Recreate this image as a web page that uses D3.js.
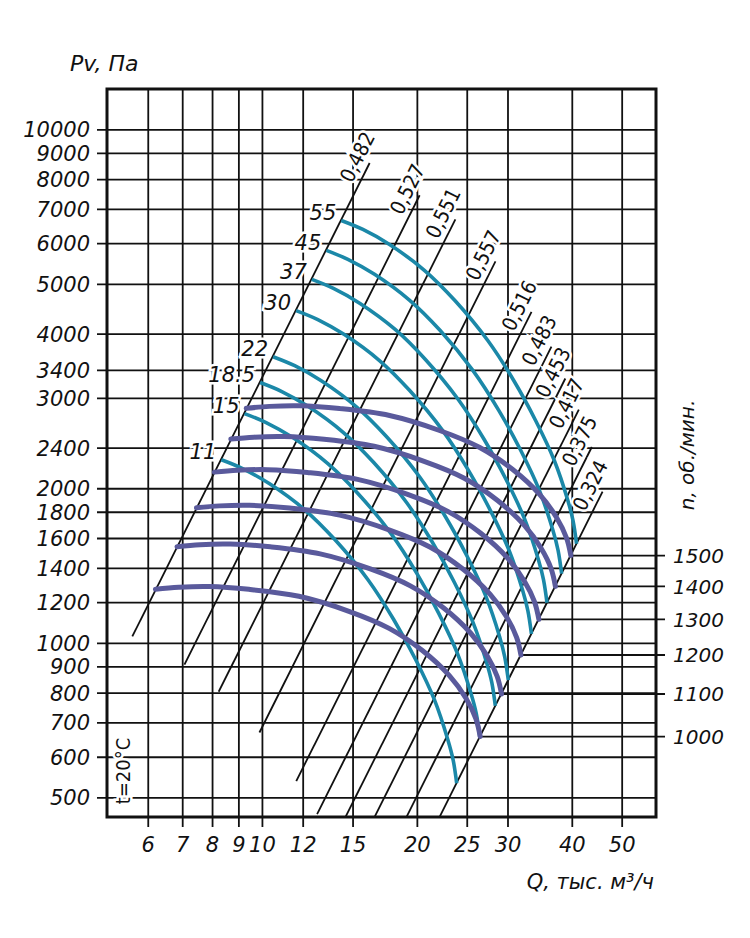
<!DOCTYPE html>
<html><head><meta charset="utf-8">
<script src="https://cdn.jsdelivr.net/npm/d3@7"></script>
<style>body{margin:0;background:#fff}</style>
</head><body>
<svg id="c" width="750" height="938"></svg>
<script>
// ---------- DATA ----------
const qTicks = [6, 7, 8, 9, 10, 12, 15, 20, 25, 30, 40, 50];
const pTicks = [500, 600, 700, 800, 900, 1000, 1200, 1400, 1600, 1800, 2000, 2400, 3000, 3400, 4000, 5000, 6000, 7000, 8000, 9000, 10000];

// efficiency (system) lines: [Q1, P1, Q2, P2]
const effLabels = ["0,482", "0,527", "0,551", "0,557", "0,516", "0,483", "0,453", "0,417", "0,375", "0,324"];
const effLines = [
  [5.60, 1029, 16.19, 8597],
  [7.07, 907, 20.25, 7439],
  [8.24, 803, 23.76, 6678],
  [9.89, 669, 28.43, 5529],
  [11.66, 538, 33.4, 4412],
  [12.8, 464, 36.52, 3774],
  [14.0, 425, 38.86, 3271],
  [16.0, 428, 41.28, 2846],
  [18.5, 430, 43.75, 2406],
  [21.5, 432, 45.9, 1970]
];

// teal curves (motor power, kW)
const powerLabels = ["55", "45", "37", "30", "22", "18.5", "15", "11"];
const teal55 = [[14.26,6644],[15.71,6381],[17.70,5966],[20.71,5309],[23.71,4641],[27.47,3879],[30.85,3242],[34.02,2710],[36.99,2265],[39.30,1893],[40.22,1730],[40.86,1559]];
const teal45 = [[13.34,5812],[14.69,5582],[16.55,5219],[19.37,4644],[22.18,4060],[25.69,3393],[28.85,2836],[31.82,2371],[34.60,1981],[36.76,1656],[37.62,1513],[38.22,1364]];
const teal37 = [[12.50,5101],[13.77,4899],[15.51,4580],[18.15,4076],[20.78,3563],[24.07,2978],[27.03,2489],[29.81,2080],[32.41,1739],[34.44,1453],[35.24,1328],[35.80,1197]];
const teal30 = [[11.65,4436],[12.84,4261],[14.46,3983],[16.92,3545],[19.37,3099],[22.45,2590],[25.21,2165],[27.80,1809],[30.23,1512],[32.11,1264],[32.86,1155],[33.39,1041]];
const teal22 = [[10.51,3607],[11.58,3464],[13.04,3239],[15.26,2882],[17.47,2520],[20.24,2106],[22.73,1760],[25.07,1471],[27.25,1230],[28.96,1028],[29.63,939],[30.11,846]];
const teal185 = [[9.92,3213],[10.93,3086],[12.31,2885],[14.40,2567],[16.49,2244],[19.10,1876],[21.45,1568],[23.66,1311],[25.72,1095],[27.33,915],[27.97,837],[28.41,754]];
const teal15 = [[9.25,2795],[10.19,2685],[11.48,2510],[13.43,2233],[15.38,1952],[17.82,1632],[20.01,1364],[22.07,1140],[23.99,953],[25.49,796],[26.09,728],[26.50,656]];
const teal11 = [[8.34,2272],[9.19,2182],[10.35,2040],[12.11,1816],[13.87,1587],[16.07,1327],[18.04,1109],[19.90,927],[21.63,775],[22.98,647],[23.52,592],[23.90,533]];
const tealCurves = [teal55, teal45, teal37, teal30, teal22, teal185, teal15, teal11];

// purple curves (speed, rpm)
const rpmLabels = ["1500", "1400", "1300", "1200", "1100", "1000"];
const rpm1500 = [[9.32,2862],[10.34,2887],[11.83,2895],[14.15,2859],[17.70,2771],[22.14,2591],[26.50,2401],[30.71,2175],[34.67,1944],[37.36,1754],[39.07,1600],[39.83,1479]];
const rpm1400 = [[8.70,2493],[9.65,2515],[11.04,2522],[13.21,2491],[16.52,2414],[20.66,2257],[24.73,2092],[28.66,1895],[32.36,1693],[34.87,1528],[36.47,1394],[37.17,1288]];
const rpm1300 = [[8.08,2150],[8.96,2168],[10.25,2174],[12.26,2147],[15.34,2081],[19.19,1946],[22.97,1803],[26.62,1634],[30.05,1460],[32.38,1317],[33.86,1202],[34.52,1111]];
const rpm1200 = [[7.46,1832],[8.27,1848],[9.46,1853],[11.32,1830],[14.16,1773],[17.71,1658],[21.20,1537],[24.57,1392],[27.74,1244],[29.89,1123],[31.26,1024],[31.86,947]];
const rpm1100 = [[6.84,1539],[7.58,1553],[8.68,1557],[10.38,1538],[12.98,1490],[16.24,1393],[19.43,1291],[22.52,1170],[25.43,1045],[27.40,943],[28.65,860],[29.21,795]];
const rpm1000 = [[6.21,1272],[6.89,1283],[7.89,1287],[9.43,1271],[11.80,1232],[14.76,1152],[17.67,1067],[20.47,967],[23.11,864],[24.91,780],[26.05,711],[26.55,657]];
const rpmCurves = [rpm1500, rpm1400, rpm1300, rpm1200, rpm1100, rpm1000];

// ---------- CHART ----------
const L = 107, R = 656, T = 89, B = 817;
const svg = d3.select('#c');
const x = d3.scaleLog().domain([5, 58.3]).range([L, R]);
const y = d3.scaleLog().domain([458, 11980]).range([B, T]);

const italic = 'font-family:"DejaVu Sans";font-style:oblique;';
const ink = '#111';

svg.append('defs').append('clipPath').attr('id', 'clip')
  .append('rect').attr('x', L).attr('y', T).attr('width', R - L).attr('height', B - T);

// grid via axes
const yAxis = d3.axisLeft(y).tickValues(pTicks).tickSize(-(R - L + 10)).tickPadding(7).tickFormat(d3.format('d'));
const gy = svg.append('g').attr('transform', `translate(${L - 10},0)`).call(yAxis);
gy.select('.domain').remove();
gy.selectAll('line').attr('stroke', ink).attr('stroke-width', 1.8);
gy.selectAll('text').attr('style', italic + 'font-size:21px').attr('fill', ink).attr('dy', '0.36em');

const xAxis = d3.axisBottom(x).tickValues(qTicks).tickSize(-(B - T + 10)).tickPadding(10).tickFormat(d3.format('d'));
const gx = svg.append('g').attr('transform', `translate(0,${B + 10})`).call(xAxis);
gx.select('.domain').remove();
gx.selectAll('line').attr('stroke', ink).attr('stroke-width', 1.8);
gx.selectAll('text').attr('style', italic + 'font-size:21px').attr('fill', ink);

// efficiency lines
const plot = svg.append('g').attr('clip-path', 'url(#clip)');
plot.selectAll('.eff').data(effLines).join('line')
  .attr('x1', d => x(d[0])).attr('y1', d => y(d[1]))
  .attr('x2', d => x(d[2])).attr('y2', d => y(d[3]))
  .attr('stroke', ink).attr('stroke-width', 1.8);

// rpm horizontal lines to the right axis
svg.selectAll('.rpmline').data(rpmCurves).join('line')
  .attr('x1', d => x(d[d.length - 1][0])).attr('x2', R + 9)
  .attr('y1', d => y(d[d.length - 1][1])).attr('y2', d => y(d[d.length - 1][1]))
  .attr('stroke', ink).attr('stroke-width', 1.8);

const line = d3.line().x(d => x(d[0])).y(d => y(d[1])).curve(d3.curveCatmullRom.alpha(0.5));

svg.selectAll('.teal').data(tealCurves).join('path')
  .attr('d', line).attr('fill', 'none').attr('stroke', '#1b88a8').attr('stroke-width', 3.6);
svg.selectAll('.rpm').data(rpmCurves).join('path')
  .attr('d', line).attr('fill', 'none').attr('stroke', '#5a5a9c').attr('stroke-width', 5).attr('stroke-linecap', 'round');

// efficiency labels
effLines.forEach((d, i) => {
  const x1 = x(d[0]), y1 = y(d[1]), x2 = x(d[2]), y2 = y(d[3]);
  const ang = Math.atan2(y2 - y1, x2 - x1) * 180 / Math.PI;
  svg.append('text')
    .attr('transform', `translate(${x2},${y2}) rotate(${ang})`)
    .attr('x', 0).attr('y', -14)
    .attr('text-anchor', 'middle').attr('dy', '0.36em')
    .attr('style', 'font-family:"DejaVu Sans Condensed";font-size:20.5px;paint-order:stroke')
    .attr('stroke', '#fff').attr('stroke-width', 5).attr('fill', ink)
    .text(effLabels[i]);
});

// power labels
tealCurves.forEach((c, i) => {
  svg.append('text')
    .attr('x', x(c[0][0]) - 5).attr('y', y(c[0][1]) - 8)
    .attr('text-anchor', 'end').attr('dy', '0.36em')
    .attr('style', italic + 'font-size:21px;paint-order:stroke')
    .attr('stroke', '#fff').attr('stroke-width', 5).attr('fill', ink)
    .text(powerLabels[i]);
});

// rpm labels
rpmCurves.forEach((c, i) => {
  svg.append('text')
    .attr('x', R + 17).attr('y', y(c[c.length - 1][1]))
    .attr('dy', '0.36em')
    .attr('style', italic + 'font-size:20px').attr('fill', ink)
    .text(rpmLabels[i]);
});

// frame
svg.append('rect').attr('x', L).attr('y', T).attr('width', R - L).attr('height', B - T)
  .attr('fill', 'none').attr('stroke', ink).attr('stroke-width', 3);

// titles
svg.append('text').attr('x', 70).attr('y', 71).attr('style', italic + 'font-size:22px').attr('fill', ink).text('Pv, Па');
svg.append('text').attr('x', 654).attr('y', 889).attr('text-anchor', 'end')
  .attr('style', italic + 'font-size:21px').attr('fill', ink).text('Q, тыс. м³/ч');
svg.append('text').attr('transform', 'translate(694,455) rotate(-90)').attr('text-anchor', 'middle')
  .attr('style', italic + 'font-size:20px').attr('fill', ink).text('n, об./мин.');
svg.append('text').attr('transform', 'translate(130,771) rotate(-90)').attr('text-anchor', 'middle')
  .attr('style', 'font-family:"DejaVu Sans Condensed";font-size:20px;paint-order:stroke')
  .attr('stroke', '#fff').attr('stroke-width', 5).attr('fill', ink).text('t=20°C');
</script>
</body></html>
